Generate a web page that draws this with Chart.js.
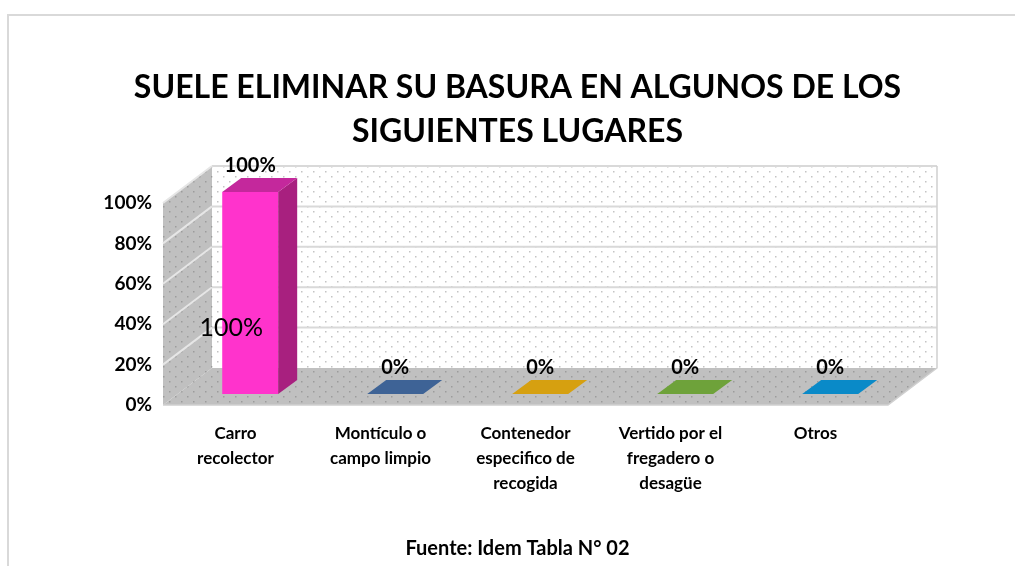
<!DOCTYPE html>
<html>
<head>
<meta charset="utf-8">
<script src="https://cdn.jsdelivr.net/npm/chart.js@4.4.1/dist/chart.umd.min.js"></script>
<style>
  html, body { margin: 0; padding: 0; background: #fff; }
  #wrap { width: 1015px; height: 566px; }
</style>
</head>
<body>
<div id="wrap"><canvas id="chart" width="1015" height="566"></canvas></div>
<script>
// data
var categories = [
    ['Carro', 'recolector'],
    ['Montículo o', 'campo limpio'],
    ['Contenedor', 'especifico de', 'recogida'],
    ['Vertido por el', 'fregadero o', 'desagüe'],
    ['Otros']
];
var values = [1, 0, 0, 0, 0];
var valueLabels = ['100%', '0%', '0%', '0%', '0%'];
var innerLabels = ['100%', '', '', '', ''];
var titleLines = ['SUELE ELIMINAR SU BASURA EN ALGUNOS DE LOS', 'SIGUIENTES LUGARES'];
var sourceText = 'Fuente: Idem Tabla N° 02';

var frontColors = ['#ff33cc', '#3e6396', '#d6a010', '#6ea23a', '#0a8ac8'];
var sideColors  = ['#a8207f', '#2e4a70', '#a07a0c', '#52792b', '#076896'];
var topColors   = ['#c4289c', '#3e6396', '#d6a010', '#6ea23a', '#0a8ac8'];

// depth of the walls and of the bars
var DX = 49, DY = -37;
var BAR_F = 0.3, BDX = 19, BDY = -14;

function dotPattern(ctx, bg, dot, w, h) {
    var c = document.createElement('canvas');
    c.width = w; c.height = h;
    var g = c.getContext('2d');
    g.fillStyle = bg;
    g.fillRect(0, 0, w, h);
    g.fillStyle = dot;
    g.fillRect(1, 1, 1.5, 1.5);
    g.fillRect(w / 2 + 1, h / 2 + 1, 1.5, 1.5);
    return ctx.createPattern(c, 'repeat');
}

function poly(ctx, pts, fill, stroke, lw) {
    ctx.beginPath();
    ctx.moveTo(pts[0][0], pts[0][1]);
    for (var i = 1; i < pts.length; i++) ctx.lineTo(pts[i][0], pts[i][1]);
    ctx.closePath();
    if (fill) { ctx.fillStyle = fill; ctx.fill(); }
    if (stroke) { ctx.strokeStyle = stroke; ctx.lineWidth = lw || 1; ctx.stroke(); }
}

var threeD = {
    id: 'threeD',
    beforeDraw: function(chart) {
        var ctx = chart.ctx;
        // outer frame
        ctx.save();
        ctx.strokeStyle = '#d9d9d9';
        ctx.lineWidth = 2;
        ctx.beginPath();
        ctx.moveTo(8, 566);
        ctx.lineTo(8, 15);
        ctx.lineTo(1015, 15);
        ctx.stroke();
        ctx.restore();
    },
    beforeDatasetsDraw: function(chart) {
        var ctx = chart.ctx, a = chart.chartArea, y = chart.scales.y;
        var L = a.left, R = a.right, T = a.top, B = a.bottom;
        ctx.save();
        var white = dotPattern(ctx, '#ffffff', '#c4c4c4', 12, 10);
        var gray = dotPattern(ctx, '#c0c0c0', '#9c9c9c', 12, 10);
        // back wall
        poly(ctx, [[L + DX, T + DY], [R + DX, T + DY], [R + DX, B + DY], [L + DX, B + DY]], white);
        // left wall
        poly(ctx, [[L, T], [L + DX, T + DY], [L + DX, B + DY], [L, B]], gray);
        // floor
        poly(ctx, [[L, B], [R, B], [R + DX, B + DY], [L + DX, B + DY]], gray);
        // grid lines
        y.ticks.forEach(function(t) {
            var py = y.getPixelForValue(t.value);
            if (t.value > 0) {
                ctx.strokeStyle = '#d9d9d9';
                ctx.lineWidth = 2;
                ctx.beginPath();
                ctx.moveTo(L + DX, py + DY);
                ctx.lineTo(R + DX, py + DY);
                ctx.stroke();
                ctx.strokeStyle = '#e6e6e6';
                ctx.beginPath();
                ctx.moveTo(L, py);
                ctx.lineTo(L + DX, py + DY);
                ctx.stroke();
            }
        });
        // edges
        ctx.strokeStyle = '#d0d0d0';
        ctx.lineWidth = 1.5;
        ctx.beginPath();
        ctx.moveTo(R + DX, T + DY);
        ctx.lineTo(R + DX, B + DY);
        ctx.lineTo(R, B);
        ctx.lineTo(L, B);
        ctx.stroke();
        ctx.restore();
    },
    beforeDatasetDraw: function(chart) {
        chart.ctx.save();
        chart.ctx.translate(DX * BAR_F, DY * BAR_F);
    },
    afterDatasetDraw: function(chart, args) {
        var ctx = chart.ctx;
        args.meta.data.forEach(function(el, i) {
            var p = el.getProps(['x', 'y', 'base', 'width'], true);
            var l = p.x - p.width / 2, r = p.x + p.width / 2;
            if (p.base - p.y > 0.5) {
                poly(ctx, [[r, p.y], [r + BDX, p.y + BDY], [r + BDX, p.base + BDY], [r, p.base]], sideColors[i]);
            }
            poly(ctx, [[l, p.y], [l + BDX, p.y + BDY], [r + BDX, p.y + BDY], [r, p.y]], topColors[i]);
        });
        ctx.restore();
    },
    afterDatasetsDraw: function(chart) {
        var ctx = chart.ctx, y = chart.scales.y;
        var meta = chart.getDatasetMeta(0);
        ctx.save();
        ctx.fillStyle = '#000';
        ctx.textAlign = 'center';
        ctx.textBaseline = 'middle';
        meta.data.forEach(function(el, i) {
            var p = el.getProps(['x', 'y'], true);
            var ox = p.x + DX * BAR_F, oy = p.y + DY * BAR_F;
            ctx.font = 'bold 20px Lato';
            ctx.fillText(valueLabels[i], ox, oy + BDY - 12);
            if (innerLabels[i]) {
                ctx.font = '25px Lato';
                ctx.fillText(innerLabels[i], ox - 19, y.getPixelForValue(0.38));
            }
        });
        ctx.restore();
    }
};

Chart.defaults.font.family = 'Lato';
Chart.defaults.color = '#000';

new Chart(document.getElementById('chart'), {
    type: 'bar',
    data: {
        labels: categories,
        datasets: [{
            data: values,
            backgroundColor: frontColors,
            borderWidth: 0,
            barPercentage: 0.386,
            categoryPercentage: 1,
            clip: false
        }]
    },
    plugins: [threeD],
    options: {
        responsive: false,
        animation: false,
        layout: { padding: { left: 20, right: 0, top: 0, bottom: 0 } },
        plugins: {
            legend: { display: false },
            tooltip: { enabled: false },
            title: {
                display: true,
                text: titleLines,
                font: { size: 32, weight: 'bold', lineHeight: 1.375 },
                padding: { top: 66, bottom: 49 }
            },
            subtitle: {
                display: true,
                position: 'bottom',
                text: sourceText,
                font: { size: 20, weight: 'bold', lineHeight: 1.2 },
                padding: { top: 0, bottom: 5 }
            }
        },
        scales: {
            x: {
                grid: { display: false, drawTicks: false },
                border: { display: false },
                ticks: {
                    font: { size: 17, weight: 'bold', lineHeight: '25px' },
                    padding: 16,
                    autoSkip: false,
                    maxRotation: 0
                },
                afterFit: function(s) { s.height = 132; }
            },
            y: {
                min: 0,
                max: 1,
                grid: { display: false, drawTicks: false },
                border: { display: false },
                ticks: {
                    stepSize: 0.2,
                    padding: 11,
                    font: { size: 19, weight: 'bold' },
                    callback: function(v) { return Math.round(v * 100) + '%'; }
                },
                afterFit: function(s) { s.width = 143; }
            },
            y2: {
                position: 'right',
                display: true,
                grid: { display: false, drawTicks: false },
                border: { display: false },
                ticks: { display: false },
                afterFit: function(s) { s.width = 127; }
            }
        }
    }
});
</script>
</body>
</html>
